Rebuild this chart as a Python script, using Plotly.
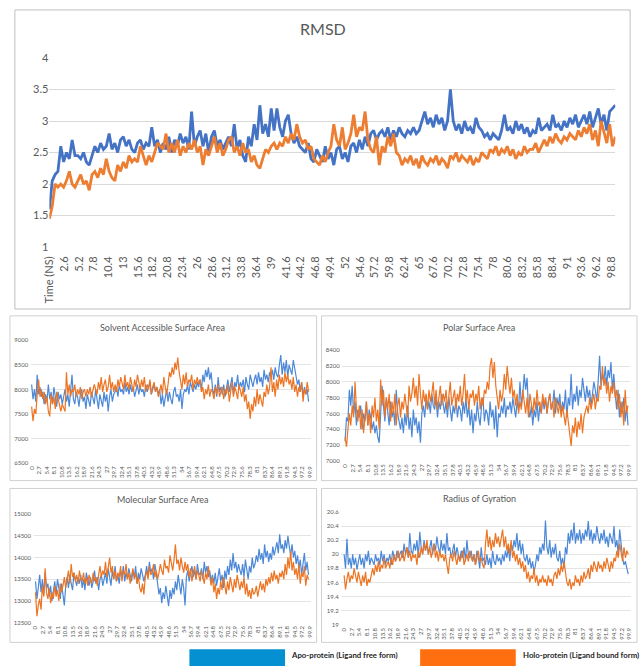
import plotly.graph_objects as go

W, H = 642, 668

# ---------------- data ----------------
TIME = [i * 0.5 for i in range(200)]  # ns

RMSD_TICK_TEXT = ["Time (NS)", "2.6", "5.2", "7.8", "10.4", "13", "15.6", "18.2", "20.8", "23.4", "26",
                  "28.6", "31.2", "33.8", "36.4", "39", "41.6", "44.2", "46.8", "49.4", "52", "54.6",
                  "57.2", "59.8", "62.4", "65", "67.6", "70.2", "72.8", "75.4", "78", "80.6", "83.2",
                  "85.8", "88.4", "91", "93.6", "96.2", "98.8"]
SUB_TICK_TEXT = ["0", "2.7", "5.4", "8.1", "10.8", "13.5", "16.2", "18.9", "21.6", "24.3", "27", "29.7",
                 "32.4", "35.1", "37.8", "40.5", "43.2", "45.9", "48.6", "51.3", "54", "56.7", "59.4",
                 "62.1", "64.8", "67.5", "70.2", "72.9", "75.6", "78.3", "81", "83.7", "86.4", "89.1",
                 "91.8", "94.5", "97.2", "99.9"]
RMSD_Y_TICKS = [1, 1.5, 2, 2.5, 3, 3.5, 4]

rmsd_apo = [
    1.6, 2.05, 2.15, 2.2, 2.6, 2.35, 2.5, 2.4, 2.7, 2.45,
    2.45, 2.4, 2.5, 2.35, 2.3, 2.45, 2.6, 2.5, 2.65, 2.55,
    2.6, 2.8, 2.55, 2.65, 2.5, 2.7, 2.75, 2.6, 2.7, 2.55,
    2.5, 2.65, 2.7, 2.55, 2.65, 2.6, 2.9, 2.6, 2.7, 2.5,
    2.65, 2.55, 2.75, 2.5, 2.7, 2.6, 2.8, 2.65, 2.75, 2.55,
    3.15, 2.6, 2.75, 2.85, 2.6, 2.8, 2.5, 2.75, 2.85, 2.6,
    2.7, 2.55, 2.65, 2.75, 2.6, 2.95, 2.55, 2.7, 2.45, 2.35,
    2.75, 2.6, 2.95, 2.7, 3.25, 2.8, 2.95, 2.75, 3.2, 2.85,
    3.2, 2.9, 2.75, 3.0, 3.1, 2.8, 2.65, 2.75, 2.6, 2.55,
    2.5, 2.65, 2.4, 2.35, 2.55, 2.45, 2.35, 2.6, 2.4, 2.5,
    2.3, 2.55, 2.6, 2.4, 2.5, 2.35, 2.6, 2.65, 2.5, 2.7,
    2.55, 2.75, 2.6, 2.8, 2.85, 2.7, 2.8, 2.85, 2.75, 2.9,
    2.7, 2.85, 2.75, 2.9, 2.8, 2.75, 2.85, 2.8, 2.9, 2.8,
    2.85, 3.0, 3.15, 2.95, 3.05, 2.9, 3.1, 2.95, 3.05, 2.85,
    3.0, 3.5, 3.0, 2.85, 2.95, 2.8, 3.0, 2.85, 2.9, 2.8,
    3.05, 2.9, 2.85, 2.75, 2.8, 2.7, 2.8, 2.75, 2.7, 2.85,
    3.1, 2.85, 2.9, 2.8, 3.0, 2.85, 2.95, 2.8, 2.9, 2.75,
    2.85, 2.8, 3.05, 2.85, 2.9, 2.95, 2.85, 3.1, 2.9, 2.95,
    2.85, 3.0, 2.9, 3.05, 2.95, 3.1, 2.9, 3.0, 3.1, 2.95,
    3.15, 2.9, 3.05, 3.2, 2.95, 3.1, 2.85, 3.15, 3.2, 3.25]

rmsd_holo = [
    1.45, 1.65, 2.0, 1.95, 2.0, 1.95, 2.05, 2.2, 2.0, 1.95,
    2.05, 2.15, 2.0, 2.05, 1.9, 2.15, 2.2, 2.1, 2.25, 2.15,
    2.4, 2.2, 2.1, 2.05, 2.3, 2.2, 2.35, 2.25, 2.45, 2.35,
    2.4, 2.35, 2.6, 2.45, 2.3, 2.45, 2.35, 2.5, 2.65, 2.6,
    2.55, 2.8, 2.5, 2.65, 2.5, 2.7, 2.45, 2.6, 2.5, 2.65,
    2.55, 2.7, 2.5, 2.6, 2.3, 2.55, 2.45, 2.6, 2.75, 2.5,
    2.65, 2.45, 2.55, 2.7, 2.75, 2.5, 2.6, 2.45, 2.65, 2.5,
    2.55, 2.35, 2.45, 2.3, 2.25, 2.4, 2.55, 2.5, 2.6, 2.65,
    2.55, 2.65, 2.6, 2.75, 2.65, 2.8, 2.7, 2.95, 2.75, 2.65,
    2.7, 2.55, 2.6, 2.4, 2.35, 2.3, 2.45, 2.35, 2.5, 2.6,
    2.95, 2.7, 2.6, 2.9, 2.55, 2.65, 2.8, 3.1, 2.75, 2.9,
    2.85, 3.15, 2.7, 2.55, 2.5, 2.75, 2.3, 2.6, 2.5, 2.75,
    2.6, 2.8, 2.5, 2.45, 2.3, 2.4, 2.35, 2.45, 2.3, 2.4,
    2.25, 2.45, 2.35, 2.3, 2.4, 2.35, 2.45, 2.3, 2.4, 2.35,
    2.25, 2.45, 2.4, 2.5, 2.35, 2.45, 2.4, 2.35, 2.45, 2.3,
    2.4, 2.35, 2.5, 2.45, 2.4, 2.55, 2.5, 2.6, 2.45, 2.55,
    2.5, 2.6, 2.45, 2.55, 2.4, 2.5, 2.45, 2.6, 2.5, 2.55,
    2.55, 2.65, 2.5, 2.6, 2.7, 2.6, 2.75, 2.65, 2.8, 2.7,
    2.65, 2.75, 2.7, 2.8, 2.75, 2.7, 2.85, 2.75, 2.9, 2.8,
    2.95, 2.7, 2.85, 2.6, 3.0, 2.8, 2.65, 2.95, 2.6, 2.75]

sasa_apo = [
    8100, 7800, 8000, 7750, 8300, 7900, 8050, 7850, 7950, 7700,
    7900, 7750, 8100, 7800, 7950, 7700, 8050, 7850, 7650, 7950,
    7800, 7900, 7700, 7850, 8000, 7750, 7900, 7650, 7950, 8300,
    7800, 7700, 7950, 7850, 7650, 7900, 8000, 7750, 7850, 7600,
    7900, 7800, 7650, 7950, 7850, 7700, 8000, 7750, 7600, 7900,
    7800, 7650, 7950, 7750, 7900, 7550, 7850, 8000, 7750, 7900,
    7950, 8050, 7850, 8100, 7950, 8000, 7900, 8150, 7950, 8050,
    7900, 8100, 7950, 8050, 7850, 8000, 8100, 7900, 8050, 7950,
    8000, 7850, 8100, 7950, 8050, 8150, 7900, 8000, 8100, 7950,
    8050, 7900, 8000, 7700, 7900, 7650, 7850, 8000, 7750, 7950,
    7800, 7700, 7950, 8050, 7850, 7900, 7750, 8000, 7600, 7900,
    8000, 7950, 8100, 7900, 8150, 8050, 7950, 8100, 8000, 8150,
    8050, 8200, 8000, 8300, 8150, 8400, 8250, 8450, 8200, 8350,
    8000, 7900, 8100, 7850, 8250, 7950, 8050, 7900, 8100, 7850,
    8000, 8200, 7950, 8100, 8250, 7900, 8150, 8050, 8300, 8000,
    8150, 8050, 8200, 7950, 8250, 8100, 8000, 8300, 8150, 8050,
    8200, 8300, 8100, 8350, 8150, 8250, 8050, 8400, 8200, 8300,
    8150, 8350, 8250, 8400, 8200, 8450, 8300, 8250, 8500, 8700,
    8300, 8550, 8350, 8600, 8250, 8500, 8400, 8300, 8600, 8450,
    8250, 8100, 8200, 7950, 8150, 7850, 8050, 7900, 8000, 7750]

sasa_holo = [
    7650, 7350, 7600, 7500, 7900, 8200, 7850, 8000, 7800, 7950,
    7700, 7850, 7550, 7450, 7900, 7700, 7850, 7600, 7950, 7800,
    7650, 7550, 7700, 7600, 7550, 8350, 7900, 8100, 7850, 8000,
    7950, 8100, 7850, 8000, 7900, 8050, 7800, 7950, 8000, 7850,
    8000, 7900, 8050, 7850, 7950, 8100, 8000, 7900, 8150, 8000,
    8250, 7950, 8100, 8200, 7950, 8050, 8300, 8000, 8150, 7950,
    8100, 7950, 8200, 8050, 8250, 8100, 8000, 8300, 8050, 8150,
    8000, 8250, 8100, 7950, 8200, 8050, 8300, 8100, 8000, 8200,
    8050, 8250, 7950, 8100, 8000, 8200, 7900, 8050, 8150, 7950,
    8050, 7850, 8000, 8100, 7900, 8250, 8050, 7900, 8100, 8350,
    8250, 8450, 8300, 8550, 8400, 8650, 8350, 8200, 8000, 8300,
    8100, 8350, 8050, 8200, 8150, 8300, 8000, 8200, 8100, 8250,
    8100, 8200, 7950, 8050, 7800, 8000, 7900, 8100, 7850, 8000,
    7950, 7800, 8050, 7900, 8100, 7850, 7950, 8050, 7800, 8000,
    7900, 8100, 7750, 8000, 8150, 7850, 8050, 7950, 7800, 8100,
    7950, 7850, 8050, 7750, 7900, 7600, 7750, 7400, 7700, 7550,
    7850, 7650, 8000, 7700, 7900, 7800, 7650, 7950, 7850, 8100,
    7900, 8050, 8450, 7950, 8150, 7850, 8200, 8000, 8300, 8100,
    8250, 8050, 8350, 8150, 8300, 8100, 8200, 8000, 8250, 7950,
    8100, 7850, 8050, 7950, 8150, 7750, 8000, 7900, 8150, 7950]

psa_apo = [
    7250, 7550, 7500, 7900, 7700, 7950, 7600, 7750, 7450, 7650,
    7550, 7700, 7400, 7600, 7500, 7750, 7450, 7650, 7550, 7400,
    7500, 7350, 7450, 7300, 7230, 7550, 7950, 7700, 7500, 7800,
    7600, 7450, 7750, 7550, 7650, 7450, 7900, 7600, 7500, 7400,
    7550, 7350, 7600, 7450, 7700, 7400, 7550, 7300, 7650, 7450,
    7550, 7350, 7500, 7230, 7600, 7700, 7550, 7800, 7650, 7750,
    7600, 7850, 7700, 7650, 7800, 7550, 7750, 7650, 7850, 7700,
    7600, 7750, 7550, 7800, 7650, 7500, 7700, 7600, 7800, 7550,
    7700, 7650, 7500, 7750, 7600, 7800, 7550, 7700, 7450, 7650,
    7350, 7600, 7500, 7750, 7550, 7450, 7700, 7800, 7500, 7650,
    7600, 7450, 7750, 7550, 7650, 7400, 7700, 7300, 7600, 7550,
    7700, 7600, 7800, 7550, 7700, 7650, 7750, 7600, 7800, 7700,
    7550, 7750, 7650, 8000, 7700, 7850, 8100, 7900, 8050, 7650,
    7550, 7700, 7450, 7650, 7550, 7750, 7500, 7700, 7600, 7800,
    7650, 7800, 7600, 7750, 7850, 7650, 7700, 7900, 7600, 7800,
    7700, 7850, 7600, 7750, 7650, 7900, 7550, 7800, 7700, 8100,
    7650, 7850, 7750, 7950, 7700, 7900, 7800, 8050, 7850, 7750,
    7950, 7800, 7900, 7700, 7850, 8000, 7900, 7750, 8000, 8330,
    7950, 8100, 8000, 8200, 7950, 8150, 8050, 8250, 7900, 8100,
    7850, 7650, 7900, 7550, 7750, 7600, 7800, 7500, 7700, 7450]

psa_holo = [
    7300, 7180, 7400, 7600, 7450, 7700, 7550, 8000, 7650, 7500,
    7700, 7400, 7650, 7350, 7550, 7750, 7450, 7600, 7350, 7700,
    7550, 7800, 7500, 7650, 7400, 8030, 7700, 7900, 7550, 7800,
    7650, 7850, 7500, 7750, 7600, 7850, 7450, 7700, 7800, 7550,
    7750, 7650, 7850, 7700, 7550, 7950, 7750, 7850, 8050, 7800,
    7950, 7700, 8100, 7850, 7650, 7900, 7750, 7850, 7650, 7900,
    7750, 7850, 8000, 7700, 7900, 7650, 7800, 7950, 7700, 7850,
    7750, 7900, 7650, 7850, 8000, 7700, 7800, 7900, 7650, 7850,
    7750, 7950, 7700, 7850, 8100, 7750, 7900, 7650, 7850, 7800,
    7900, 7700, 7850, 7750, 7950, 7650, 7800, 7700, 7900, 7850,
    8000, 7900, 8200, 8300, 8050, 8250, 7950, 7800, 7650, 7900,
    7750, 7850, 8100, 7900, 8200, 8000, 7850, 8050, 7800, 7900,
    7700, 7850, 7600, 7750, 7650, 7900, 7700, 7600, 7800, 7550,
    7850, 7700, 7600, 7800, 7650, 7900, 7700, 7750, 7600, 7850,
    7700, 7800, 7600, 7750, 7850, 7650, 7750, 7550, 7800, 7700,
    7600, 7750, 7550, 7700, 7600, 7450, 7650, 7500, 7350, 7190,
    7450, 7350, 7550, 7300, 7500, 7400, 7600, 7350, 7550, 7650,
    7700, 7600, 7800, 7650, 7750, 7850, 7650, 7800, 7750, 7950,
    7900, 8200, 7950, 8050, 7850, 8000, 7750, 7950, 7850, 8000,
    7800, 7900, 7650, 7850, 7550, 7750, 7450, 7900, 7600, 7700]

msa_apo = [
    13450, 13050, 13300, 13600, 13200, 13500, 13150, 13650, 13300, 13400,
    13100, 13350, 13000, 13250, 13450, 13150, 13500, 13300, 13050, 13400,
    13200, 12900, 13350, 13550, 13300, 13600, 13400, 13250, 13650, 13500,
    13350, 13550, 13400, 13600, 13300, 13500, 13250, 13650, 13450, 13350,
    13550, 13300, 13450, 13700, 13400, 13550, 13250, 13500, 13600, 13350,
    13500, 13650, 13400, 13750, 13550, 13350, 13700, 13500, 13800, 13450,
    13600, 13400, 13700, 13550, 13800, 13450, 13650, 13500, 13750, 13600,
    13450, 13700, 13550, 13800, 13400, 13650, 13500, 13750, 13550, 13450,
    13600, 13800, 13550, 13900, 13650, 13750, 13500, 13850, 13650, 13400,
    13150, 13300, 12950, 13200, 13050, 13350, 13100, 12880, 13250, 13050,
    13300, 13150, 13450, 13250, 13600, 13350, 13150, 13500, 13300, 12900,
    13550, 13700, 13450, 13650, 13800, 13550, 13700, 13500, 13850, 13650,
    13600, 13750, 13500, 13900, 13650, 13800, 13550, 13700, 13450, 13600,
    13400, 13650, 13350, 13550, 13750, 13450, 13600, 13300, 13700, 13500,
    13800, 13600, 13950, 13700, 14100, 13750, 13900, 13650, 13850, 13700,
    13600, 13850, 13550, 13950, 13700, 13500, 13800, 13650, 14000, 13750,
    13850, 14050, 13900, 14200, 13950, 14100, 13850, 14300, 14000, 14150,
    13900, 14100, 13950, 14250, 14050, 14200, 14350, 14100, 14530, 14200,
    14300, 14100, 14400, 14200, 14500, 14250, 14050, 14300, 14000, 14150,
    13850, 14050, 13750, 13950, 13600, 13850, 14100, 13700, 13900, 13600]

msa_holo = [
    13200, 12650, 12900, 13050, 12800, 13350, 13100, 13750, 13200, 13050,
    13300, 12950, 13200, 13050, 13350, 13100, 13250, 13000, 13400, 13200,
    13350, 13550, 13300, 13500, 13700, 13400, 13850, 13550, 13650, 13450,
    13600, 13400, 13700, 13500, 13450, 13650, 13400, 13550, 13350, 13600,
    13500, 13400, 13650, 13450, 13550, 13350, 13600, 13800, 13550, 13700,
    13600, 13900, 13550, 13750, 14000, 13650, 13800, 13500, 13700, 13450,
    13650, 13550, 13800, 13450, 13700, 13600, 13850, 13500, 13650, 13400,
    13600, 13750, 13500, 13650, 13400, 13550, 13300, 13200, 13400, 13150,
    13550, 13700, 13500, 13800, 13600, 13650, 13850, 13550, 13700, 13500,
    13650, 13850, 13700, 13600, 13950, 13750, 13800, 13650, 14050, 13850,
    13700, 13950, 14300, 13850, 13950, 13700, 14000, 13800, 13650, 13900,
    13700, 13850, 13550, 13750, 13450, 13650, 13800, 13500, 13700, 13600,
    13450, 13700, 13550, 13400, 13650, 13500, 13800, 13600, 13350, 13550,
    13200, 13400, 13050, 13300, 13150, 13450, 13250, 13550, 13300, 13150,
    13450, 13250, 13550, 13350, 13200, 13500, 13300, 13600, 13400, 13250,
    13450, 13300, 13550, 13150, 13400, 13100, 13250, 13050, 13300, 13150,
    13200, 13350, 13100, 13300, 13450, 13250, 13400, 13200, 13500, 13350,
    13550, 13400, 13650, 13450, 13700, 13500, 13600, 13400, 13650, 13550,
    13700, 13500, 13850, 13600, 14000, 13750, 14150, 13700, 13900, 13600,
    13750, 13500, 13850, 13400, 13650, 13550, 13800, 13350, 13600, 13500]

rog_apo = [
    20.0, 19.8, 20.22, 19.85, 19.95, 19.8, 20.0, 19.85, 19.95, 19.78,
    19.9, 20.0, 19.85, 19.95, 19.8, 20.0, 19.9, 20.05, 19.85, 19.95,
    19.9, 19.85, 20.0, 19.9, 19.95, 19.85, 20.05, 19.9, 20.0, 19.85,
    19.95, 19.9, 20.0, 19.85, 20.05, 19.95, 19.9, 20.05, 19.95, 20.0,
    20.05, 19.95, 20.15, 20.0, 20.1, 19.95, 20.3, 20.05, 20.0, 20.15,
    20.05, 20.2, 19.95, 20.32, 20.1, 20.0, 20.2, 20.05, 20.15, 20.0,
    20.1, 20.2, 20.0, 20.15, 20.05, 20.25, 20.1, 20.0, 20.2, 20.05,
    20.15, 20.0, 20.3, 20.05, 20.1, 19.95, 20.05, 20.15, 19.95, 20.1,
    20.0, 19.9, 20.05, 19.95, 20.1, 19.9, 20.2, 20.0, 19.95, 20.05,
    19.9, 20.0, 19.85, 20.05, 19.95, 19.8, 20.1, 19.9, 19.95, 19.85,
    20.0, 19.85, 19.95, 19.8, 20.05, 19.9, 19.85, 20.0, 19.9, 19.95,
    19.85, 20.0, 19.9, 20.05, 19.95, 20.1, 19.9, 20.15, 20.05, 20.2,
    20.1, 20.3, 20.05, 20.2, 20.0, 20.15, 19.95, 19.9, 20.0, 19.85,
    19.95, 19.8, 19.9, 19.75, 19.85, 20.0, 19.9, 20.1, 20.0, 20.15,
    20.05, 20.48, 20.1, 20.0, 20.2, 19.95, 20.1, 20.0, 20.15, 19.95,
    19.9, 20.05, 19.85, 19.95, 19.8, 20.1, 20.0, 20.3, 20.15, 20.35,
    20.2, 20.45, 20.15, 20.3, 20.2, 20.35, 20.15, 20.3, 20.2, 20.35,
    20.25, 20.47, 20.2, 20.35, 20.15, 20.3, 20.2, 20.4, 20.25, 20.15,
    20.3, 20.2, 20.35, 20.15, 20.25, 20.1, 20.3, 20.2, 20.15, 20.4,
    20.1, 20.2, 20.0, 20.35, 20.1, 19.95, 19.85, 19.9, 19.8, 19.72]

rog_holo = [
    19.7, 19.5, 19.65, 19.75, 19.6, 19.7, 19.65, 19.8, 19.7, 19.6,
    19.75, 19.65, 19.55, 19.7, 19.6, 19.75, 19.55, 19.65, 19.6, 19.7,
    19.8, 19.7, 19.85, 19.75, 19.9, 19.75, 19.85, 19.8, 19.95, 19.8,
    19.85, 19.9, 19.8, 19.95, 19.85, 20.0, 19.9, 19.95, 20.05, 19.9,
    19.95, 20.05, 19.9, 20.0, 20.1, 19.95, 20.05, 19.9, 20.0, 19.95,
    20.0, 19.85, 20.05, 19.95, 20.1, 20.0, 20.15, 20.05, 20.2, 20.0,
    20.1, 19.95, 20.05, 20.15, 19.95, 20.05, 19.9, 20.05, 19.95, 20.0,
    19.9, 20.0, 19.85, 19.72, 19.95, 20.0, 19.9, 20.05, 19.95, 19.85,
    20.0, 19.9, 19.95, 20.05, 19.85, 19.95, 20.0, 19.9, 20.05, 19.95,
    19.9, 20.0, 19.85, 19.95, 20.05, 19.9, 19.95, 19.85, 19.8, 20.15,
    20.35, 20.1, 20.25, 20.05, 20.2, 20.1, 20.3, 20.15, 20.25, 20.1,
    20.2, 20.35, 20.1, 20.25, 20.05, 20.15, 20.0, 20.2, 19.95, 20.05,
    19.9, 20.0, 19.85, 19.95, 19.8, 19.9, 19.75, 19.85, 19.65, 19.75,
    19.6, 19.7, 19.65, 19.8, 19.6, 19.7, 19.55, 19.65, 19.6, 19.7,
    19.6, 19.65, 19.55, 19.7, 19.6, 19.65, 19.55, 19.7, 19.75, 19.65,
    19.8, 19.7, 19.85, 19.75, 19.9, 19.7, 19.6, 19.55, 19.65, 19.5,
    19.6, 19.55, 19.7, 19.6, 19.65, 19.55, 19.7, 19.6, 19.75, 19.65,
    19.7, 19.8, 19.65, 19.85, 19.75, 19.9, 19.8, 19.75, 19.9, 19.8,
    19.85, 19.75, 19.9, 19.8, 19.95, 19.85, 19.75, 19.9, 19.8, 19.95,
    19.9, 20.05, 19.95, 20.15, 20.0, 19.9, 20.1, 19.95, 20.05, 20.0]

SERIES_NAMES = ["Apo-protein (Ligand free form)", "Holo-protein (Ligand bound form)"]
PANEL_TITLES = ["RMSD", "Solvent Accessible Surface Area", "Polar Surface Area",
                "Molecular Surface Area", "Radius of Gyration"]

# ---------------- styling ----------------
FONT = "Lato, 'Open Sans', sans-serif"
TXT = "#595959"
BLUE_MAIN, ORANGE_MAIN = "#4472C4", "#ED7D31"
BLUE_SUB, ORANGE_SUB = "#4C88D8", "#EC7423"
LEG_BLUE, LEG_ORANGE = "#0590D2", "#FF6F0F"
NBSP = "\u00a0"


def fx(p):
    return p / W


def fy(p):
    return 1 - p / H


fig = go.Figure()

# panel definitions: (axis suffix, data pair, x-dom px, y-dom px(top,bottom), x range, y range, dtick, tickformat)
panels = [
    ("", (rmsd_apo, rmsd_holo), (43, 617), (52, 245), (0, 99.5), (0.997, 4.0), 0.5, ""),
    ("2", (sasa_apo, sasa_holo), (24, 308), (340, 465), (-0.35, 100.25), (6500, 9000), 500, "d"),
    ("3", (psa_apo, psa_holo), (340, 632), (350, 463), (-1.0, 100.25), (7000, 8400), 200, "d"),
    ("4", (msa_apo, msa_holo), (27, 308), (517, 628), (-0.7, 100.3), (12500, 15000), 500, "d"),
    ("5", (rog_apo, rog_holo), (339, 633), (515, 630), (-1.0, 100.5), (19, 20.6), 0.2, ""),
]

layout_axes = {}
for i, (suf, (apo, holo), xd, yd, xr, yr, dt, tfmt) in enumerate(panels):
    main = i == 0
    cols = (BLUE_MAIN, ORANGE_MAIN) if main else (BLUE_SUB, ORANGE_SUB)
    lw = 2.8 if main else 1.2
    for series, col, name in ((apo, cols[0], SERIES_NAMES[0]), (holo, cols[1], SERIES_NAMES[1])):
        fig.add_trace(go.Scatter(x=TIME, y=series, mode="lines", name=name,
                                 line=dict(color=col, width=lw), showlegend=False,
                                 hoverinfo="skip", xaxis="x" + suf, yaxis="y" + suf))
    if main:
        tv = [0] + [float(s) for s in RMSD_TICK_TEXT[1:]]
        tt = RMSD_TICK_TEXT
        tf = dict(family=FONT, size=11, color=TXT)
        yf = dict(family=FONT, size=11, color=TXT)
        xso, ysuf = 6, NBSP * 3
        ytick = dict(tickmode="array", tickvals=RMSD_Y_TICKS,
                     ticktext=[("%g" % v) for v in RMSD_Y_TICKS])
    else:
        tv = [float(s) for s in SUB_TICK_TEXT]
        tt = SUB_TICK_TEXT
        tf = dict(family=FONT, size=6, color=TXT)
        yf = dict(family=FONT, size=6, color=TXT)
        xso, ysuf = 1, NBSP
        ytick = dict(dtick=dt, tick0=yr[0], tickformat=tfmt)
    layout_axes["xaxis" + suf] = dict(
        domain=[fx(xd[0]), fx(xd[1])], range=list(xr), anchor="y" + suf,
        tickmode="array", tickvals=tv, ticktext=tt, tickangle=-90, tickfont=tf,
        ticklabelstandoff=xso,
        showgrid=False, zeroline=False, showline=False, ticks="", fixedrange=True)
    layout_axes["yaxis" + suf] = dict(
        domain=[fy(yd[1]), fy(yd[0])], range=list(yr), anchor="x" + suf,
        tickfont=yf, showgrid=True, ticksuffix=ysuf,
        gridcolor="#D9D9D9" if main else "#E4E4E4", gridwidth=1,
        zeroline=False, showline=False, ticks="", exponentformat="none",
        separatethousands=False, fixedrange=True, **ytick)

# panel frames
shapes = []
frames = [(8, 3, 632, 308, "#BFBFBF"),
          (3, 315, 314, 483, "#D0D0D0"), (319, 315, 639, 483, "#D0D0D0"),
          (3, 491, 314, 648, "#D0D0D0"), (319, 491, 639, 648, "#D0D0D0")]
for x0, y0, x1, y1, c in frames:
    shapes.append(dict(type="rect", xref="paper", yref="paper", x0=fx(x0), x1=fx(x1),
                       y0=fy(y1), y1=fy(y0), line=dict(color=c, width=1), fillcolor="rgba(0,0,0,0)",
                       layer="below"))
# legend swatches
shapes.append(dict(type="rect", xref="paper", yref="paper", x0=fx(185), x1=fx(282), y0=fy(672), y1=fy(655),
                   line=dict(width=0), fillcolor=LEG_BLUE))
shapes.append(dict(type="rect", xref="paper", yref="paper", x0=fx(419), x1=fx(516), y0=fy(672), y1=fy(655),
                   line=dict(width=0), fillcolor=LEG_ORANGE))

annotations = []
title_pos = [(320, 22, 16), (158, 327, 9), (479, 327, 9), (158, 502, 9), (479, 501, 9)]
for t, (x, y, s) in zip(PANEL_TITLES, title_pos):
    annotations.append(dict(text=t, x=fx(x), y=fy(y), xref="paper", yref="paper", showarrow=False,
                            xanchor="center", yanchor="middle", font=dict(family=FONT, size=s, color=TXT)))
for name, x in zip(SERIES_NAMES, (286, 521)):
    annotations.append(dict(text="<b>" + name + "</b>", x=fx(x), y=fy(661), xref="paper", yref="paper",
                            showarrow=False, xanchor="left", yanchor="middle",
                            font=dict(family=FONT, size=7.8, color="#262626")))

fig.update_layout(width=W, height=H, margin=dict(l=0, r=0, t=0, b=0),
                  paper_bgcolor="white", plot_bgcolor="white", showlegend=False,
                  shapes=shapes, annotations=annotations, **layout_axes)

fig.write_html("out.html", config={"displayModeBar": False},
               post_script="document.body.style.margin='0px';document.body.style.overflow='hidden';")
